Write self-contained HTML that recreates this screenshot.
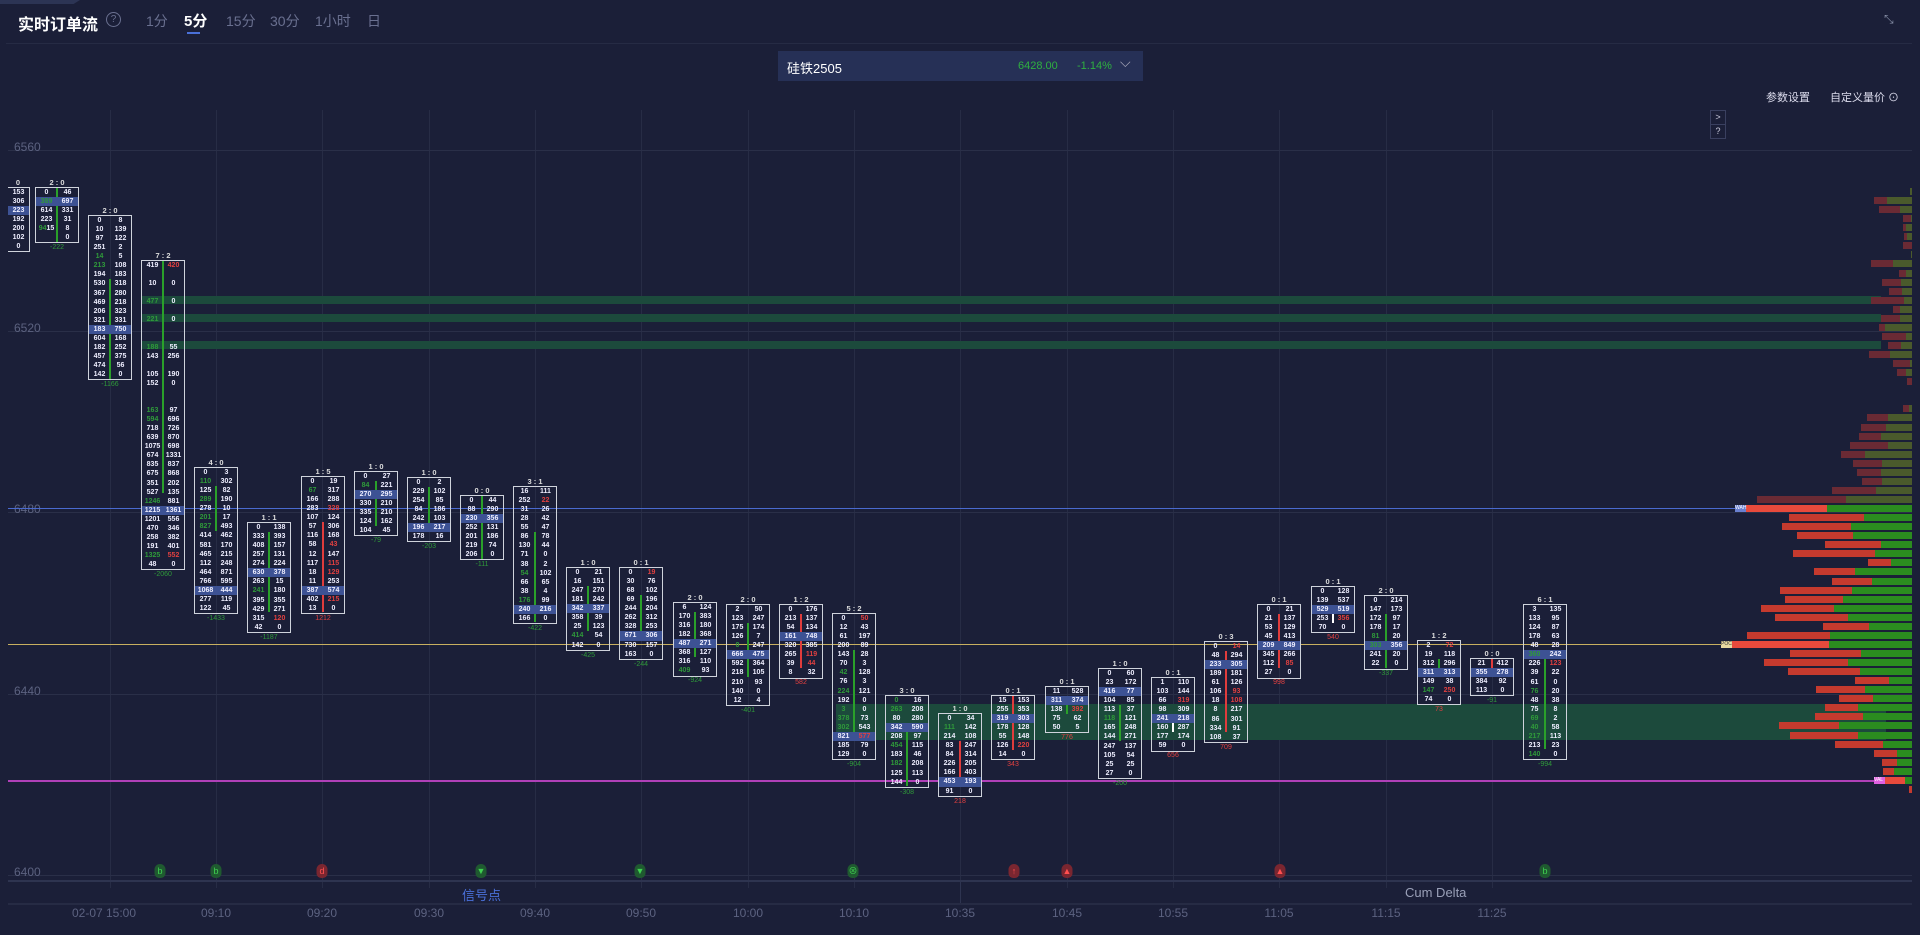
<!DOCTYPE html>
<html><head><meta charset="utf-8"><style>
*{margin:0;padding:0}
body{width:1920px;height:935px;background:#1b1f38;position:relative;overflow:hidden;font-family:"Liberation Sans","Noto Sans CJK SC",sans-serif;color:#ccc}
.a{position:absolute}
.vg{position:absolute;top:110px;height:778px;width:1px;background:#272c45}
.hg{position:absolute;left:8px;width:1904px;height:1px;background:#2a2f48}
.pl{position:absolute;left:14px;font-size:12px;color:#5c6280}
.c{position:absolute;width:44px;border:1px solid #cfd3dc;box-sizing:border-box;display:flex;font:bold 7px "Liberation Sans",sans-serif;line-height:9.06px;color:#eef;text-align:center}
.c>div{width:50%;position:relative;z-index:1}
.c .m{position:absolute;left:20px;width:2px;background:#2aa02a;z-index:0}
.c .m.r{background:#e03c3c}
.c .h{position:absolute;top:-10px;left:0;width:100%;font-size:7.5px;color:#ddd}
.c .d{position:absolute;bottom:-10px;left:0;width:100%;font-size:7px;font-weight:normal}
.g{color:#2f9a3a}.r{color:#e04040}
.p{display:block;background:#3d5294}
.band{position:absolute;background:#1c4a3c}
.pb{position:absolute;height:7px;background:#2b8c1f}
.pb s{display:block;height:7px;background:#c53a2e}
.pd{position:absolute;height:7px;background:#4a5a2c}
.pd s{display:block;height:7px;background:#6a2a34}
.t{position:absolute;top:906px;font-size:12px;color:#5c6280;transform:translateX(-50%)}
.sg{position:absolute;top:864px;width:11px;height:14px;border-radius:6px 6px 5px 5px;font-size:9px;text-align:center;line-height:14px;transform:translateX(-50%)}
.sg.gr{background:#1f5a30;color:#3fd050}.sg.rd{background:#7a2630;color:#ff5050}
</style></head><body>
<div class="a" style="left:0;top:0;width:80px;height:4px;background:#2c3454;clip-path:polygon(0 0,100% 0,92% 100%,0 100%)"></div>
<div class="a" style="left:18px;top:11px;font-size:16px;font-weight:bold;color:#fff">实时订单流</div>
<div class="a" style="left:106px;top:12px;width:13px;height:13px;border:1px solid #6a7090;border-radius:50%;font-size:10px;line-height:13px;text-align:center;color:#6a7090">?</div>
<div class="a" style="left:146px;top:11px;font-size:14px;color:#6a7090">1分</div>
<div class="a" style="left:184px;top:10px;font-size:15px;font-weight:bold;color:#fff">5分</div>
<div class="a" style="left:187px;top:32px;width:13px;height:2px;background:#4a70d8"></div>
<div class="a" style="left:226px;top:11px;font-size:14px;color:#6a7090">15分</div>
<div class="a" style="left:270px;top:11px;font-size:14px;color:#6a7090">30分</div>
<div class="a" style="left:315px;top:11px;font-size:14px;color:#6a7090">1小时</div>
<div class="a" style="left:367px;top:11px;font-size:14px;color:#6a7090">日</div>
<div class="a" style="left:1884px;top:12px;font-size:12px;color:#8890a8">⤡</div>
<div class="a" style="left:6px;top:43px;width:1906px;height:1px;background:#262b44"></div>
<div class="a" style="left:778px;top:51px;width:365px;height:30px;background:#263056"></div>
<div class="a" style="left:787px;top:58px;font-size:13px;color:#fff">硅铁2505</div>
<div class="a" style="left:1018px;top:60px;font-size:11px;color:#2fb040">6428.00</div>
<div class="a" style="left:1077px;top:60px;font-size:11px;color:#2fb040">-1.14%</div>
<div class="a" style="left:1120px;top:54px;font-size:14px;color:#aab">⌵</div>
<div class="a" style="left:1766px;top:89px;font-size:11px;color:#dde">参数设置</div>
<div class="a" style="left:1830px;top:89px;font-size:11px;color:#dde">自定义量价 ⊙</div>
<div class="a" style="left:1710px;top:110px;width:14px;height:13px;border:1px solid #3a4060;font-size:9px;color:#ccd;text-align:center;line-height:13px">&gt;</div>
<div class="a" style="left:1710px;top:124px;width:14px;height:13px;border:1px solid #3a4060;font-size:9px;color:#ccd;text-align:center;line-height:13px">?</div>

<div class="vg" style="left:110px"></div><div class="vg" style="left:216px"></div><div class="vg" style="left:322px"></div><div class="vg" style="left:429px"></div><div class="vg" style="left:535px"></div><div class="vg" style="left:641px"></div><div class="vg" style="left:748px"></div><div class="vg" style="left:854px"></div><div class="vg" style="left:960px"></div><div class="vg" style="left:1067px"></div><div class="vg" style="left:1173px"></div><div class="vg" style="left:1279px"></div><div class="vg" style="left:1386px"></div><div class="vg" style="left:1492px"></div>
<div class="hg" style="top:150px"></div><div class="hg" style="top:331px"></div><div class="hg" style="top:512px"></div><div class="hg" style="top:694px"></div><div class="hg" style="top:875px"></div>
<div class="pl" style="top:140px">6560</div><div class="pl" style="top:321px">6520</div><div class="pl" style="top:502px">6480</div><div class="pl" style="top:684px">6440</div><div class="pl" style="top:865px">6400</div>

<div class="band" style="left:141px;top:296px;width:1740px;height:8px"></div>
<div class="band" style="left:141px;top:314px;width:1740px;height:8px"></div>
<div class="band" style="left:141px;top:341px;width:1740px;height:8px"></div>
<div class="band" style="left:836px;top:704px;width:1050px;height:36px"></div>

<div class="a" style="left:8px;top:508px;width:1740px;height:1px;background:#4a6ad0"></div>
<div class="a" style="left:8px;top:644px;width:1720px;height:1px;background:#c8b060"></div>
<div class="a" style="left:8px;top:780px;width:1870px;height:2px;background:#b040b8"></div>

<!-- candles -->
<div class="c" style="left:-14px;top:187px"><div></div><div>153<br>306<br><span class="p">223</span>192<br>200<br>102<br>0</div><span class="h" style="left:10px">0</span></div>
<div class="c" style="left:35px;top:187px"><i class="m" style="top:0;height:54px"></i><div>0<br><span class="p g">389</span>614<br>223<br><span class="g">94</span>15</div><div>46<br><span class="p">697</span>331<br>31<br>8<br>0</div><span class="h">2 : 0</span><span class="d g">-222</span></div>
<div class="c" style="left:88px;top:215px"><i class="m" style="top:63px;height:100px"></i><div>0<br>10<br>97<br>251<br><span class="g">14</span><br><span class="g">213</span><br>194<br>530<br>367<br>469<br>206<br>321<br><span class="p">183</span>604<br>182<br>457<br>474<br>142</div><div>8<br>139<br>122<br>2<br>5<br>108<br>183<br>318<br>280<br>218<br>323<br>331<br><span class="p">750</span>168<br>252<br>375<br>56<br>0</div><span class="h">2 : 0</span><span class="d g">-1166</span></div>
<div class="c" style="left:141px;top:260px"><i class="m" style="top:0;height:232px"></i><div>419<br>&nbsp;<br>10<br>&nbsp;<br><span class="g">477</span><br>&nbsp;<br><span class="g">221</span><br>&nbsp;<br>&nbsp;<br><span class="g">188</span><br>143<br>&nbsp;<br>105<br>152<br>&nbsp;<br>&nbsp;<br><span class="g">163</span><br><span class="g">594</span><br>718<br>639<br>1075<br>674<br>835<br>675<br>351<br>527<br><span class="g">1246</span><br><span class="p">1215</span>1201<br>470<br>258<br>191<br><span class="g">1325</span><br>48</div><div><span class="r">420</span><br>&nbsp;<br>0<br>&nbsp;<br>0<br>&nbsp;<br>0<br>&nbsp;<br>&nbsp;<br>55<br>256<br>&nbsp;<br>190<br>0<br>&nbsp;<br>&nbsp;<br>97<br>696<br>726<br>870<br>698<br>1331<br>837<br>868<br>202<br>135<br>881<br><span class="p">1361</span>556<br>346<br>382<br>401<br><span class="r">552</span><br>0</div><span class="h">7 : 2</span><span class="d g">-2060</span></div>
<div class="c" style="left:194px;top:467px"><i class="m" style="top:18px;height:45px"></i><div>0<br><span class="g">110</span><br>125<br><span class="g">289</span><br>278<br><span class="g">201</span><br><span class="g">827</span><br>414<br>581<br>465<br>112<br>464<br>766<br><span class="p">1068</span>277<br>122</div><div>3<br>302<br>82<br>190<br>10<br>17<br>493<br>462<br>170<br>215<br>248<br>871<br>595<br><span class="p">444</span>119<br>45</div><span class="h">4 : 0</span><span class="d g">-1433</span></div>
<div class="c" style="left:247px;top:522px"><i class="m" style="top:9px;height:80px"></i><div>0<br>333<br>408<br>257<br>274<br><span class="p">630</span>263<br><span class="g">241</span><br>395<br>429<br>315<br>42</div><div>138<br>393<br>157<br>131<br>224<br><span class="p">378</span>15<br>180<br>355<br>271<br><span class="r">120</span><br>0</div><span class="h">1 : 1</span><span class="d g">-1187</span></div>
<div class="c" style="left:301px;top:476px"><i class="m r" style="top:45px;height:90px"></i><div>0<br><span class="g">67</span><br>166<br>283<br>107<br>57<br>116<br>58<br>12<br>117<br>18<br>11<br><span class="p">387</span>402<br>13</div><div>19<br>317<br>288<br><span class="r">328</span><br>124<br>306<br>168<br><span class="r">43</span><br>147<br><span class="r">115</span><br><span class="r">129</span><br>253<br><span class="p">574</span><span class="r">215</span><br>0</div><span class="h">1 : 5</span><span class="d r">1212</span></div>
<div class="c" style="left:354px;top:471px"><i class="m" style="top:9px;height:45px"></i><div>0<br><span class="g">84</span><br><span class="p">270</span>330<br>335<br>124<br>104</div><div>27<br>221<br><span class="p">295</span>210<br>210<br>162<br>45</div><span class="h">1 : 0</span><span class="d g">-79</span></div>
<div class="c" style="left:407px;top:477px"><i class="m" style="top:9px;height:45px"></i><div>0<br>229<br>254<br>84<br>242<br><span class="p">196</span>178</div><div>2<br>102<br>85<br>186<br>103<br><span class="p">217</span>16</div><span class="h">1 : 0</span><span class="d g">-203</span></div>
<div class="c" style="left:460px;top:495px"><i class="m" style="top:0;height:63px"></i><div>0<br>88<br><span class="p">230</span>252<br>201<br>219<br>206</div><div>44<br>290<br><span class="p">356</span>131<br>186<br>74<br>0</div><span class="h">0 : 0</span><span class="d g">-111</span></div>
<div class="c" style="left:513px;top:486px"><i class="m" style="top:45px;height:90px"></i><div>16<br>252<br>31<br>28<br>55<br>86<br>130<br>71<br>38<br><span class="g">54</span><br>66<br>38<br><span class="g">176</span><br><span class="p">240</span>166</div><div>111<br><span class="r">22</span><br>26<br>42<br>47<br>78<br>44<br>0<br>2<br>102<br>65<br>4<br>99<br><span class="p">216</span>0</div><span class="h">3 : 1</span><span class="d g">-422</span></div>
<div class="c" style="left:566px;top:567px"><i class="m" style="top:18px;height:45px"></i><div>0<br>16<br>247<br>181<br><span class="p">342</span>358<br>25<br><span class="g">414</span><br>142</div><div>21<br>151<br>270<br>242<br><span class="p">337</span>39<br>123<br>54<br>0</div><span class="h">1 : 0</span><span class="d g">-425</span></div>
<div class="c" style="left:619px;top:567px"><i class="m" style="top:27px;height:45px"></i><div>0<br>30<br>68<br>69<br>244<br>262<br>328<br><span class="p">671</span>730<br>163</div><div><span class="r">19</span><br>76<br>102<br>196<br>204<br>312<br>253<br><span class="p">306</span>157<br>0</div><span class="h">0 : 1</span><span class="d g">-244</span></div>
<div class="c" style="left:673px;top:602px"><i class="m" style="top:9px;height:45px"></i><div>6<br>170<br>316<br>182<br><span class="p">487</span>368<br>316<br><span class="g">409</span></div><div>124<br>383<br>180<br>368<br><span class="p">271</span>127<br>110<br>93</div><span class="h">2 : 0</span><span class="d g">-924</span></div>
<div class="c" style="left:726px;top:604px"><i class="m" style="top:18px;height:54px"></i><div>2<br>123<br>175<br>126<br><span class="g">0</span><br><span class="p">666</span>592<br>218<br>210<br>140<br>12</div><div>50<br>247<br>174<br>7<br>247<br><span class="p">475</span>364<br>105<br>93<br>0<br>4</div><span class="h">2 : 0</span><span class="d g">-401</span></div>
<div class="c" style="left:779px;top:604px"><i class="m r" style="top:9px;height:54px"></i><div>0<br>213<br>54<br><span class="p">161</span>320<br>265<br>39<br>8</div><div>176<br>137<br>134<br><span class="p">748</span>385<br><span class="r">119</span><br><span class="r">44</span><br>32</div><span class="h">1 : 2</span><span class="d r">582</span></div>
<div class="c" style="left:832px;top:613px"><i class="m" style="top:36px;height:90px"></i><div>0<br>12<br>61<br>200<br>143<br>70<br><span class="g">42</span><br>76<br><span class="g">224</span><br>192<br><span class="g">3</span><br><span class="g">378</span><br><span class="g">302</span><br><span class="p">821</span>185<br>129</div><div><span class="r">50</span><br>43<br>197<br>89<br>28<br>3<br>128<br>3<br>121<br>0<br>0<br>73<br>543<br><span class="p r">577</span>79<br>0</div><span class="h">5 : 2</span><span class="d g">-904</span></div>
<div class="c" style="left:885px;top:695px"><i class="m" style="top:36px;height:54px"></i><div><span class="g">0</span><br><span class="g">263</span><br>80<br><span class="p">342</span>208<br><span class="g">454</span><br>183<br><span class="g">182</span><br>125<br>144</div><div>16<br>208<br>280<br><span class="p">590</span>97<br>115<br>46<br>208<br>113<br>0</div><span class="h">3 : 0</span><span class="d g">-308</span></div>
<div class="c" style="left:938px;top:713px"><i class="m r" style="top:27px;height:36px"></i><div>0<br><span class="g">111</span><br>214<br>83<br>84<br>226<br>166<br><span class="p">453</span>91</div><div>34<br>142<br>108<br>247<br>314<br>205<br>403<br><span class="p">193</span>0</div><span class="h">1 : 0</span><span class="d r">218</span></div>
<div class="c" style="left:991px;top:695px"><i class="m r" style="top:0;height:54px"></i><div>15<br>255<br><span class="p">319</span>178<br>55<br>126<br>14</div><div>153<br>353<br><span class="p">303</span>128<br>148<br><span class="r">220</span><br>0</div><span class="h">0 : 1</span><span class="d r">343</span></div>
<div class="c" style="left:1045px;top:686px"><i class="m" style="top:9px;height:18px"></i><div>11<br><span class="p">311</span>138<br>75<br>50</div><div>528<br><span class="p">374</span><span class="r">392</span><br>62<br>5</div><span class="h">0 : 1</span><span class="d r">776</span></div>
<div class="c" style="left:1098px;top:668px"><i class="m" style="top:36px;height:36px"></i><div>0<br>23<br><span class="p">416</span>104<br>113<br><span class="g">118</span><br>165<br>144<br>247<br>105<br>25<br>27</div><div>60<br>172<br><span class="p">77</span>85<br>37<br>121<br>248<br>271<br>137<br>54<br>25<br>0</div><span class="h">1 : 0</span><span class="d g">-200</span></div>
<div class="c" style="left:1151px;top:677px"><i class="m" style="top:45px;height:9px;background:#fff"></i><div>1<br>103<br>66<br>98<br><span class="p">241</span>160<br>177<br>59</div><div>110<br>144<br><span class="r">319</span><br>309<br><span class="p">218</span>287<br>174<br>0</div><span class="h">0 : 1</span><span class="d r">656</span></div>
<div class="c" style="left:1204px;top:641px"><i class="m r" style="top:9px;height:81px"></i><div>0<br>48<br><span class="p">233</span>189<br>61<br>106<br>18<br>8<br>86<br>334<br>108</div><div><span class="r">14</span><br>294<br><span class="p">305</span>181<br>126<br><span class="r">93</span><br><span class="r">108</span><br>217<br>301<br>91<br>37</div><span class="h">0 : 3</span><span class="d r">709</span></div>
<div class="c" style="left:1257px;top:604px"><i class="m r" style="top:9px;height:54px"></i><div>0<br>21<br>53<br>45<br><span class="p">209</span>345<br>112<br>27</div><div>21<br>137<br>129<br>413<br><span class="p">849</span>266<br><span class="r">85</span><br>0</div><span class="h">0 : 1</span><span class="d r">998</span></div>
<div class="c" style="left:1311px;top:586px"><i class="m" style="top:27px;height:9px;background:#fff"></i><div>0<br>139<br><span class="p">529</span>253<br>70</div><div>128<br>537<br><span class="p">519</span><span class="r">356</span><br>0</div><span class="h">0 : 1</span><span class="d r">540</span></div>
<div class="c" style="left:1364px;top:595px"><i class="m" style="top:18px;height:54px"></i><div>0<br>147<br>172<br>178<br><span class="g">81</span><br><span class="p g">303</span>241<br>22</div><div>214<br>173<br>97<br>17<br>20<br><span class="p">356</span>20<br>0</div><span class="h">2 : 0</span><span class="d g">-337</span></div>
<div class="c" style="left:1417px;top:640px"><i class="m" style="top:18px;height:18px"></i><div>2<br>19<br>312<br><span class="p">311</span>149<br><span class="g">147</span><br>74</div><div><span class="r">72</span><br>118<br>296<br><span class="p">313</span>38<br><span class="r">250</span><br>0</div><span class="h">1 : 2</span><span class="d r">73</span></div>
<div class="c" style="left:1470px;top:658px"><i class="m r" style="top:0;height:18px"></i><div>21<br><span class="p">355</span>384<br>113</div><div>412<br><span class="p">278</span>92<br>0</div><span class="h">0 : 0</span><span class="d g">-91</span></div>
<div class="c" style="left:1523px;top:604px"><i class="m" style="top:45px;height:99px"></i><div>3<br>133<br>124<br>178<br>48<br><span class="p g">360</span>226<br>39<br>61<br><span class="g">76</span><br>48<br>75<br><span class="g">69</span><br><span class="g">40</span><br><span class="g">217</span><br>213<br><span class="g">140</span></div><div>135<br>95<br>87<br>63<br>28<br><span class="p">242</span><span class="r">123</span><br>22<br>0<br>20<br>38<br>8<br>2<br>58<br>113<br>23<br>0</div><span class="h">6 : 1</span><span class="d g">-994</span></div>
<div class="a" style="left:0;top:140px;width:8px;height:130px;background:#1b1f38"></div>

<!-- profile -->
<div class="pd" style="top:188px;left:1910px;width:2px"></div>
<div class="pd" style="top:197px;left:1874px;width:38px"><s style="width:13px"></s></div>
<div class="pd" style="top:206px;left:1879px;width:33px"><s style="width:21px"></s></div>
<div class="pd" style="top:215px;left:1903px;width:9px"><s style="width:8px"></s></div>
<div class="pd" style="top:224px;left:1903px;width:9px"><s style="width:3px"></s></div>
<div class="pd" style="top:233px;left:1904px;width:8px"><s style="width:3px"></s></div>
<div class="pd" style="top:242px;left:1903px;width:9px"><s style="width:9px"></s></div>
<div class="pd" style="top:251px;left:1911px;width:1px"></div>
<div class="pd" style="top:260px;left:1871px;width:41px"><s style="width:22px"></s></div>
<div class="pd" style="top:270px;left:1899px;width:13px"><s style="width:7px"></s></div>
<div class="pd" style="top:279px;left:1882px;width:30px"><s style="width:19px"></s></div>
<div class="pd" style="top:288px;left:1889px;width:23px"><s style="width:13px"></s></div>
<div class="pd" style="top:297px;left:1871px;width:41px"><s style="width:33px"></s></div>
<div class="pd" style="top:306px;left:1893px;width:19px"><s style="width:7px"></s></div>
<div class="pd" style="top:315px;left:1881px;width:31px"><s style="width:19px"></s></div>
<div class="pd" style="top:324px;left:1879px;width:33px"><s style="width:6px"></s></div>
<div class="pd" style="top:333px;left:1882px;width:30px"><s style="width:24px"></s></div>
<div class="pd" style="top:342px;left:1888px;width:24px"><s style="width:13px"></s></div>
<div class="pd" style="top:351px;left:1869px;width:43px"><s style="width:21px"></s></div>
<div class="pd" style="top:360px;left:1893px;width:19px"><s style="width:17px"></s></div>
<div class="pd" style="top:369px;left:1897px;width:15px"><s style="width:9px"></s></div>
<div class="pd" style="top:378px;left:1907px;width:5px"><s style="width:5px"></s></div>
<div class="pd" style="top:405px;left:1903px;width:9px"><s style="width:6px"></s></div>
<div class="pd" style="top:414px;left:1867px;width:45px"><s style="width:21px"></s></div>
<div class="pd" style="top:424px;left:1861px;width:51px"><s style="width:25px"></s></div>
<div class="pd" style="top:433px;left:1859px;width:53px"><s style="width:22px"></s></div>
<div class="pd" style="top:442px;left:1850px;width:62px"><s style="width:38px"></s></div>
<div class="pd" style="top:451px;left:1841px;width:71px"><s style="width:24px"></s></div>
<div class="pd" style="top:460px;left:1853px;width:59px"><s style="width:29px"></s></div>
<div class="pd" style="top:469px;left:1857px;width:55px"><s style="width:24px"></s></div>
<div class="pd" style="top:478px;left:1862px;width:50px"><s style="width:20px"></s></div>
<div class="pd" style="top:487px;left:1832px;width:80px"><s style="width:44px"></s></div>
<div class="pd" style="top:496px;left:1757px;width:155px"><s style="width:89px"></s></div>
<div class="pb" style="top:505px;left:1746px;width:166px"><s style="width:81px;background:#e84a3c"></s></div>
<div class="a" style="top:505px;left:1735px;width:11px;height:7px;background:#6a80d0;font-size:5px;color:#fff;line-height:7px">WAH</div>
<div class="pb" style="top:514px;left:1789px;width:123px"><s style="width:75px"></s></div>
<div class="pb" style="top:523px;left:1782px;width:130px"><s style="width:69px"></s></div>
<div class="pb" style="top:532px;left:1797px;width:115px"><s style="width:56px"></s></div>
<div class="pb" style="top:541px;left:1825px;width:87px"><s style="width:56px"></s></div>
<div class="pb" style="top:550px;left:1793px;width:119px"><s style="width:82px"></s></div>
<div class="pb" style="top:559px;left:1868px;width:44px"><s style="width:23px"></s></div>
<div class="pb" style="top:568px;left:1814px;width:98px"><s style="width:41px"></s></div>
<div class="pb" style="top:578px;left:1832px;width:80px"><s style="width:40px"></s></div>
<div class="pb" style="top:587px;left:1780px;width:132px"><s style="width:72px"></s></div>
<div class="pb" style="top:596px;left:1785px;width:127px"><s style="width:58px"></s></div>
<div class="pb" style="top:605px;left:1761px;width:151px"><s style="width:73px"></s></div>
<div class="pb" style="top:614px;left:1775px;width:137px"><s style="width:73px"></s></div>
<div class="pb" style="top:623px;left:1823px;width:89px"><s style="width:46px"></s></div>
<div class="pb" style="top:632px;left:1747px;width:165px"><s style="width:83px"></s></div>
<div class="pb" style="top:641px;left:1732px;width:180px"><s style="width:97px;background:#e84a3c"></s></div>
<div class="a" style="top:641px;left:1721px;width:11px;height:7px;background:#e8d8a0;font-size:5px;color:#333;line-height:7px">POC</div>
<div class="pb" style="top:650px;left:1790px;width:122px"><s style="width:71px"></s></div>
<div class="pb" style="top:659px;left:1764px;width:148px"><s style="width:84px"></s></div>
<div class="pb" style="top:668px;left:1788px;width:124px"><s style="width:72px"></s></div>
<div class="pb" style="top:677px;left:1855px;width:57px"><s style="width:34px"></s></div>
<div class="pb" style="top:686px;left:1816px;width:96px"><s style="width:49px"></s></div>
<div class="pb" style="top:695px;left:1839px;width:73px"><s style="width:34px"></s></div>
<div class="pb" style="top:704px;left:1825px;width:87px"><s style="width:33px"></s></div>
<div class="pb" style="top:713px;left:1815px;width:97px"><s style="width:48px"></s></div>
<div class="pb" style="top:722px;left:1779px;width:133px"><s style="width:60px"></s></div>
<div class="pb" style="top:732px;left:1790px;width:122px"><s style="width:68px"></s></div>
<div class="pb" style="top:741px;left:1835px;width:77px"><s style="width:48px"></s></div>
<div class="pb" style="top:750px;left:1874px;width:38px"><s style="width:23px"></s></div>
<div class="pb" style="top:759px;left:1882px;width:30px"><s style="width:15px"></s></div>
<div class="pb" style="top:768px;left:1883px;width:29px"><s style="width:11px"></s></div>
<div class="pb" style="top:777px;left:1885px;width:27px"><s style="width:20px;background:#e84a3c"></s></div>
<div class="a" style="top:777px;left:1874px;width:11px;height:7px;background:#e060e0;font-size:5px;color:#fff;line-height:7px">VAL</div>
<div class="pb" style="top:786px;left:1909px;width:3px;background:#c53a2e"></div>

<!-- signals -->
<div class="sg gr" style="left:160px">b</div>
<div class="sg gr" style="left:216px">b</div>
<div class="sg rd" style="left:322px">d</div>
<div class="sg gr" style="left:481px">▼</div>
<div class="sg gr" style="left:640px">▼</div>
<div class="sg gr" style="left:853px">⊗</div>
<div class="sg rd" style="left:1014px">↑</div>
<div class="sg rd" style="left:1067px">▲</div>
<div class="sg rd" style="left:1280px">▲</div>
<div class="sg gr" style="left:1545px">b</div>

<div class="a" style="left:8px;top:880px;width:1904px;height:2px;background:#2e3450"></div>
<div class="a" style="left:960px;top:882px;width:1px;height:22px;background:#2e3450"></div>
<div class="a" style="left:462px;top:885px;font-size:13px;color:#4a70d8">信号点</div>
<div class="a" style="left:1405px;top:885px;font-size:13px;color:#9aa0b8">Cum Delta</div>
<div class="a" style="left:8px;top:903px;width:1904px;height:2px;background:#262b44"></div>
<div class="t" style="left:104px">02-07 15:00</div><div class="t" style="left:216px">09:10</div><div class="t" style="left:322px">09:20</div><div class="t" style="left:429px">09:30</div><div class="t" style="left:535px">09:40</div><div class="t" style="left:641px">09:50</div><div class="t" style="left:748px">10:00</div><div class="t" style="left:854px">10:10</div><div class="t" style="left:960px">10:35</div><div class="t" style="left:1067px">10:45</div><div class="t" style="left:1173px">10:55</div><div class="t" style="left:1279px">11:05</div><div class="t" style="left:1386px">11:15</div><div class="t" style="left:1492px">11:25</div>
</body></html>
